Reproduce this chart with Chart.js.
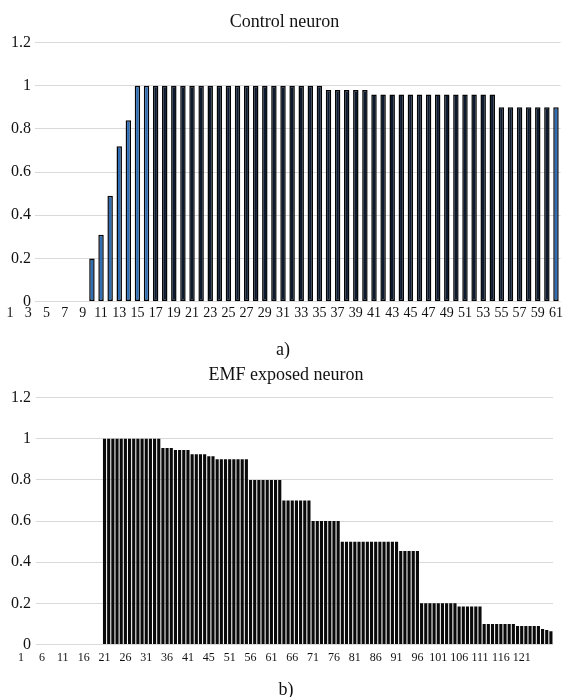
<!DOCTYPE html>
<html>
<head>
<meta charset="utf-8">
<script src="https://cdn.jsdelivr.net/npm/chart.js@4/dist/chart.umd.min.js"></script>
<style>
  html, body { margin: 0; padding: 0; background: #fff; overflow: hidden; }
  canvas { position: absolute; left: 0; }
  #control { top: 0; }
  #emf { top: 360px; }
</style>
</head>
<body>
<canvas id="control" width="566" height="364"></canvas>
<canvas id="emf" width="566" height="345"></canvas>
<script>
// Chart data
const TOP_CATEGORIES = Array.from({ length: 61 }, (_, i) => String(i + 1));
const TOP_VALUES = [
    0, 0, 0, 0, 0, 0, 0, 0, 0,
    0.2, 0.31, 0.49, 0.72, 0.84,
    1, 1, 1, 1, 1, 1, 1, 1, 1, 1, 1, 1, 1, 1, 1, 1, 1, 1, 1, 1, 1,
    0.98, 0.98, 0.98, 0.98, 0.98,
    0.96, 0.96, 0.96, 0.96, 0.96, 0.96, 0.96, 0.96, 0.96, 0.96, 0.96, 0.96, 0.96, 0.96,
    0.9, 0.9, 0.9, 0.9, 0.9, 0.9, 0.9
];

const BOTTOM_CATEGORIES = Array.from({ length: 128 }, (_, i) => String(i + 1));
const BOTTOM_VALUES = [
    0, 0, 0, 0, 0, 0, 0, 0, 0, 0, 0, 0, 0, 0, 0, 0, 0, 0, 0, 0,
    1, 1, 1, 1, 1, 1, 1, 1, 1, 1, 1, 1, 1, 1,
    0.955, 0.955, 0.955,
    0.945, 0.945, 0.945, 0.945,
    0.925, 0.925, 0.925, 0.925,
    0.915, 0.915,
    0.9, 0.9, 0.9, 0.9, 0.9, 0.9, 0.9, 0.9,
    0.8, 0.8, 0.8, 0.8, 0.8, 0.8, 0.8, 0.8,
    0.7, 0.7, 0.7, 0.7, 0.7, 0.7, 0.7,
    0.6, 0.6, 0.6, 0.6, 0.6, 0.6, 0.6,
    0.5, 0.5, 0.5, 0.5, 0.5, 0.5, 0.5, 0.5, 0.5, 0.5, 0.5, 0.5, 0.5, 0.5,
    0.455, 0.455, 0.455, 0.455, 0.455,
    0.2, 0.2, 0.2, 0.2, 0.2, 0.2, 0.2, 0.2, 0.2,
    0.185, 0.185, 0.185, 0.185, 0.185, 0.185,
    0.1, 0.1, 0.1, 0.1, 0.1, 0.1, 0.1, 0.1,
    0.09, 0.09, 0.09, 0.09, 0.09, 0.09,
    0.075, 0.07, 0.065
];
// every 5th category is labelled (the figure prints "45" where 46 would be)
const BOTTOM_TICK_LABELS = ['1', '6', '11', '16', '21', '26', '31', '36', '41', '45', '51', '56', '61',
    '66', '71', '76', '81', '86', '91', '96', '101', '106', '111', '116', '121'];

const Y_MAX = 1.2;
const Y_STEP = 0.2;

const FONT = "'Liberation Serif', 'Times New Roman', serif";
const TEXT = '#111';
const GRID = '#d9d9d9';

// hides the grid under the y labels (labels sit over the plot area)
const gridMask = {
    id: 'gridMask',
    beforeDatasetsDraw(chart, args, opts) {
        const a = chart.chartArea;
        const ctx = chart.ctx;
        ctx.save();
        ctx.fillStyle = '#fff';
        ctx.fillRect(a.left - 2, a.top - 2, opts.until - a.left + 2, a.bottom - a.top + 4);
        ctx.restore();
    }
};

function makeOptions(cfg) {
    return {
        responsive: false,
        animation: false,
        layout: { padding: cfg.padding },
        plugins: {
            legend: { display: false },
            tooltip: { enabled: false },
            title: {
                display: true,
                text: cfg.title,
                color: TEXT,
                font: { family: FONT, size: 18, weight: 'normal' },
                padding: cfg.titlePadding
            },
            gridMask: { until: cfg.maskUntil }
        },
        scales: {
            x: {
                grid: { display: false, drawTicks: false },
                border: { display: false },
                ticks: {
                    autoSkip: false,
                    maxRotation: 0,
                    minRotation: 0,
                    padding: cfg.xTickPadding,
                    color: TEXT,
                    font: { family: FONT, size: cfg.xFontSize },
                    callback: cfg.xLabel
                },
                title: {
                    display: true,
                    text: cfg.caption,
                    color: TEXT,
                    font: { family: FONT, size: 18 },
                    padding: cfg.captionPadding
                }
            },
            y: {
                min: 0,
                max: Y_MAX,
                afterFit: scale => { scale.width = 0; },
                grid: { color: GRID, lineWidth: 1, drawTicks: false },
                border: { display: false },
                ticks: {
                    stepSize: Y_STEP,
                    mirror: true,
                    crossAlign: 'far',
                    padding: cfg.yTickPadding,
                    z: 1,
                    color: TEXT,
                    font: { family: FONT, size: 16 },
                    callback: v => String(+v.toFixed(1))
                }
            }
        }
    };
}

new Chart(document.getElementById('control'), {
    type: 'bar',
    data: {
        labels: TOP_CATEGORIES,
        datasets: [{
            data: TOP_VALUES,
            backgroundColor: ctx => (ctx.dataIndex < 16 || ctx.dataIndex === 60) ? '#2f6db5' : '#0c1a30',
            borderColor: '#050505',
            borderWidth: 1.5,
            borderSkipped: false,
            barPercentage: 0.6,
            categoryPercentage: 1
        }]
    },
    options: makeOptions({
        title: 'Control neuron',
        caption: 'a)',
        padding: { left: 5.5, right: 2.5, top: 0, bottom: 0 },
        titlePadding: { top: 11, bottom: 10 },
        xTickPadding: 3,
        xFontSize: 14,
        captionPadding: { top: 15, bottom: 3 },
        yTickPadding: 5.5,
        maskUntil: 35,
        xLabel: (v, i) => (i % 2 === 0 ? TOP_CATEGORIES[i] : '')
    }),
    plugins: [gridMask]
});

new Chart(document.getElementById('emf'), {
    type: 'bar',
    data: {
        labels: BOTTOM_CATEGORIES,
        datasets: [{
            data: BOTTOM_VALUES,
            backgroundColor: '#0a0a0a',
            borderWidth: 0,
            barPercentage: 0.75,
            categoryPercentage: 1
        }]
    },
    options: makeOptions({
        title: 'EMF exposed neuron',
        caption: 'b)',
        padding: { left: 19, right: 13, top: 0, bottom: 0 },
        titlePadding: { top: 4, bottom: 12 },
        xTickPadding: 6,
        xFontSize: 12,
        captionPadding: { top: 8.5, bottom: 4 },
        yTickPadding: -8,
        maskUntil: 36,
        xLabel: (v, i) => (i % 5 === 0 && BOTTOM_TICK_LABELS[i / 5] ? BOTTOM_TICK_LABELS[i / 5] : '')
    }),
    plugins: [gridMask]
});
</script>
</body>
</html>
